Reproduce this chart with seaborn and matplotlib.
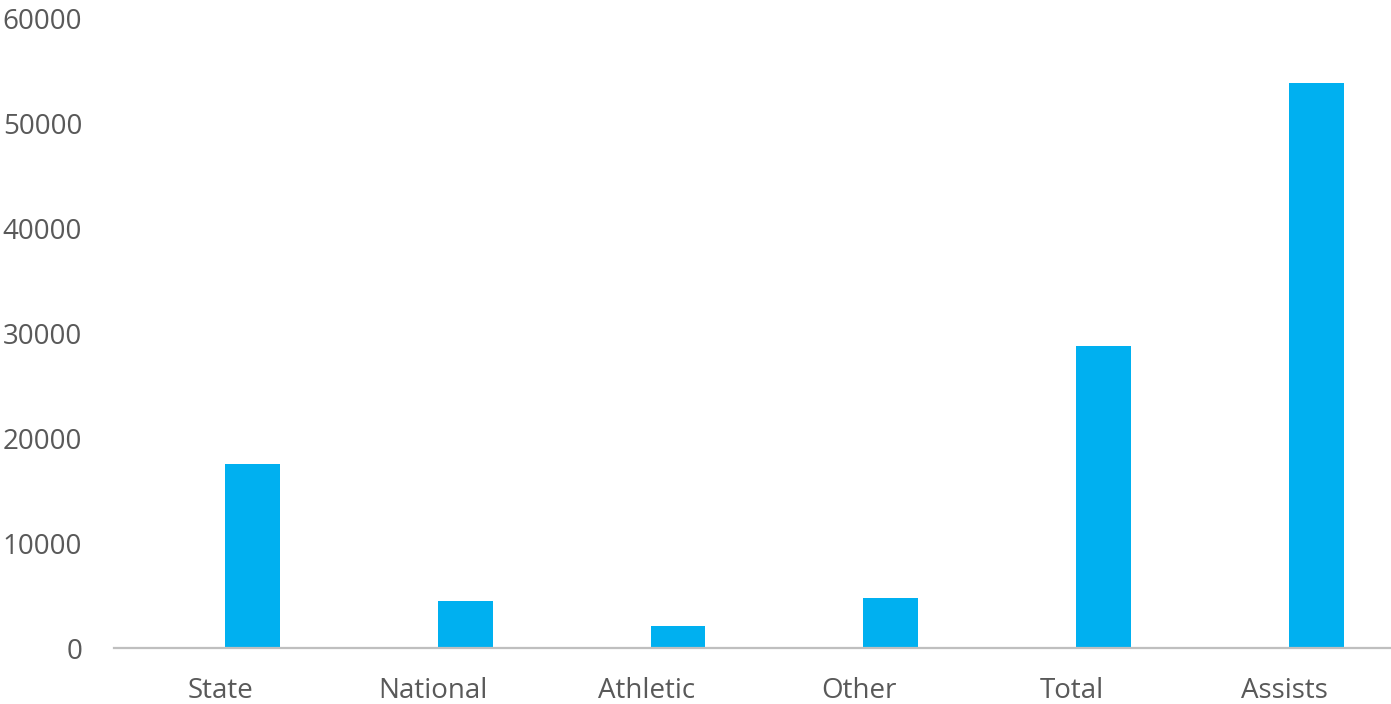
import matplotlib
matplotlib.use("Agg")
import matplotlib.pyplot as plt
import pandas as pd
import seaborn as sns

# chart data
categories = ["State", "National", "Athletic", "Other", "Total", "Assists"]
counts = [17500, 4480, 2100, 4750, 28750, 53800]
# the original chart has an empty first series, which pushes the bars right
empty_series = [0, 0, 0, 0, 0, 0]
y_ticks = [0, 10000, 20000, 30000, 40000, 50000, 60000]

df = pd.DataFrame({
    "category": categories * 2,
    "value": empty_series + counts,
    "series": ["blank"] * len(categories) + ["count"] * len(categories),
})

sns.set_style("white")
plt.rcParams["font.family"] = ["Open Sans", "DejaVu Sans"]

text_col = "#595959"

fig = plt.figure(figsize=(13.91, 7.04), dpi=100)
ax = fig.add_axes([0.082, 0.0795, 0.918, 0.8945])

sns.barplot(data=df, x="category", y="value", hue="series",
            palette={"blank": "#00B0F0", "count": "#00B0F0"},
            width=0.6, gap=0.14, dodge=True, legend=False,
            edgecolor="none", linewidth=0, saturation=1, ax=ax)

ax.set_xlim(-0.5, len(categories) - 0.5)
ax.set_ylim(0, 60000)
ax.set_yticks(y_ticks)
ax.set_yticklabels([str(t) for t in y_ticks])
ax.set_xlabel("")
ax.set_ylabel("")

for s in ["top", "right", "left"]:
    ax.spines[s].set_visible(False)
ax.spines["bottom"].set_color("#BFBFBF")
ax.spines["bottom"].set_linewidth(1.6)

ax.tick_params(axis="y", length=0, pad=23, labelsize=20, labelcolor=text_col)
ax.tick_params(axis="x", length=0, pad=21, labelsize=20, labelcolor=text_col)
ax.grid(False)

fig.savefig("out.png", dpi=100)
